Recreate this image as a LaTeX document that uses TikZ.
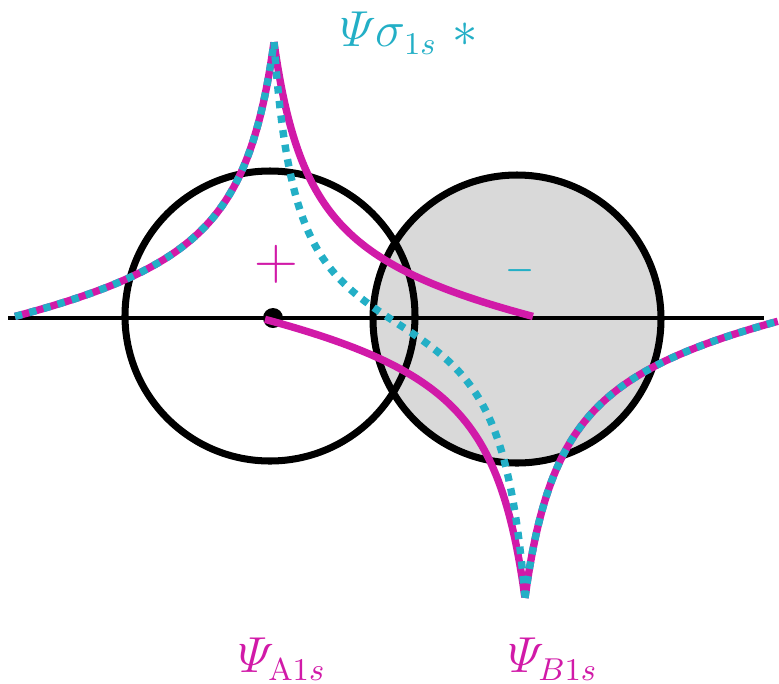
\documentclass[tikz,border=0pt]{standalone}
\usepackage{amsmath}
\usepackage{amssymb}
\usepackage{xcolor}
\usepackage{tikz}
\definecolor{psimag}{RGB}{209,26,168}
\definecolor{psicyan}{RGB}{35,175,198}
\definecolor{lobegray}{RGB}{217,217,217}

\begin{document}
\begin{tikzpicture}[
  declare function={fs(\d)=0.38/(0.38+\d)*(1-(\d/2.65)^2);
                    gs(\d)=3.046*(0.22/(0.22+\d)-0.26/(2.77-\d));},
  orb/.style={line width=2pt},
  mag/.style={psimag,line width=2.1pt,samples=150},
  cyd/.style={psicyan,line width=2.1pt,samples=150,dash pattern=on 2.1pt off 2.1pt},
  lbl/.style={font=\fontsize{13.5}{15}\selectfont,inner sep=1pt}]
\useasboundingbox (0,0) rectangle (7.79,6.83);
\fill[lobegray] (5.17,3.64) circle (1.44);
\draw[line width=0.9pt] (0.08,3.65) -- (7.64,3.65);
\draw[orb] (2.70,3.67) circle (1.45);
\draw[orb] (5.17,3.64) circle (1.44);
\fill (2.73,3.65) circle (0.1);
% psi A
\draw[mag,domain=0.15:2.74] plot (\x,{3.65+2.76*fs(2.74-\x)});
\draw[mag,domain=2.74:5.33] plot (\x,{3.65+2.76*fs(\x-2.74)});
% psi B
\draw[mag,domain=2.65:5.25] plot (\x,{3.65-2.80*fs(5.25-\x)});
\draw[mag,domain=5.25:7.78] plot (\x,{3.65-2.80*fs(\x-5.25)});
% sigma*
\draw[cyd,domain=0.15:2.74] plot (\x,{3.65+2.76*fs(2.74-\x)});
\draw[cyd,domain=2.74:5.25,samples=250] plot (\x,{3.65+gs(\x-2.74)});
\draw[cyd,domain=5.25:7.78] plot (\x,{3.65-2.80*fs(\x-5.25)});
\node[psimag,font=\fontsize{18}{20}\selectfont] (plus) at (2.76,4.19) {$+$};
\node[psicyan,font=\fontsize{9}{11}\selectfont] (minus) at (5.20,4.12) {$\boldsymbol{-}$};
\node[lbl,psicyan] (sigstar) at (4.09,6.50) {$\varPsi\sigma_{1s}\ \ast$};
\node[lbl,psimag] (psiA) at (2.82,0.24) {$\varPsi_{\mathrm{A}1s}$};
\node[lbl,psimag] (psiB) at (5.53,0.24) {$\varPsi_{B1s}$};
\end{tikzpicture}
\end{document}
